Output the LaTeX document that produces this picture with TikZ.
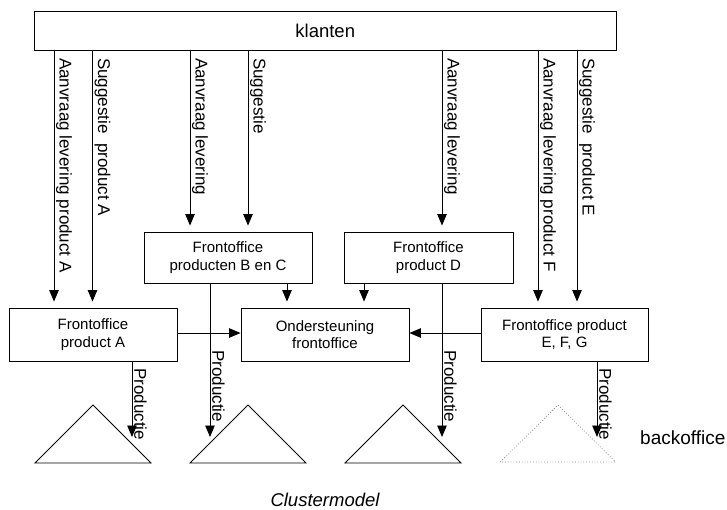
\documentclass[tikz,border=0pt]{standalone}
\usepackage{fontspec}
\setmainfont{Liberation Sans}
\usetikzlibrary{arrows.meta}
\begin{document}
\begin{tikzpicture}[x=1pt,y=-1pt,
  box/.style={draw, line width=0.9pt, inner sep=0pt, align=center,
    font=\fontsize{15}{17.5}\selectfont},
  arr/.style={line width=0.9pt, -{Triangle[length=11.5pt,width=9.5pt]}},
  gap/.style={shorten >=6pt},
  lbl/.style={rotate=-90, anchor=south west, inner sep=0pt,
    font=\fontsize{17}{20}\selectfont},
  hill/.style={line width=0.9pt, line join=miter},
  ghost/.style={line width=0.8pt, dotted, draw=black!45},
]
\useasboundingbox (0,0) rectangle (727,509);

% customer layer
\node[box, minimum width=581.5pt, minimum height=39.5pt,
  font=\fontsize{18.5}{21}\selectfont] (klanten) at (325.25,30.75) {klanten};

% front offices
\node[box, minimum width=168pt, minimum height=51pt] (bc) at (228,257.5)
  {Frontoffice\\producten B en C};
\node[box, minimum width=169pt, minimum height=51pt] (d) at (428.5,257.5)
  {Frontoffice\\product D};
\node[box, minimum width=168pt, minimum height=53pt] (a) at (93,334.5)
  {Frontoffice\\product A};
\node[box, minimum width=168pt, minimum height=53pt] (ond) at (325,334.5)
  {Ondersteuning\\frontoffice};
\node[box, minimum width=167pt, minimum height=53pt] (efg) at (564.5,334.5)
  {Frontoffice product\\E, F, G};

% requests and suggestions from the customers
\draw[arr, gap] (54,0 |- klanten.south) -- (54,0 |- a.north);
\draw[arr, gap] (92.5,0 |- klanten.south) -- (92.5,0 |- a.north);
\draw[arr, gap] (190,0 |- klanten.south) -- (190,0 |- bc.north);
\draw[arr, gap] (248,0 |- klanten.south) -- (248,0 |- bc.north);
\draw[arr, gap] (442,0 |- klanten.south) -- (442,0 |- d.north);
\draw[arr, gap] (538,0 |- klanten.south) -- (538,0 |- efg.north);
\draw[arr, gap] (577,0 |- klanten.south) -- (577,0 |- efg.north);

\node[lbl] (l1) at (56,58) {Aanvraag levering product A};
\node[lbl] (l2) at (94.5,58) {Suggestie\ \ product A};
\node[lbl] (l3) at (192,58) {Aanvraag levering};
\node[lbl] (l4) at (250,58) {Suggestie};
\node[lbl] (l5) at (444,58) {Aanvraag levering};
\node[lbl] (l6) at (540,58) {Aanvraag levering product F};
\node[lbl] (l7) at (579,58) {Suggestie\ \ product E};

% links to the support office
\draw[arr, gap] (287,0 |- bc.south) -- (287,0 |- ond.north);
\draw[arr, gap] (364,0 |- d.south) -- (364,0 |- ond.north);
\draw[arr] (a.east |- 0,333) -- (ond.west |- 0,333);
\draw[arr] (efg.west |- 0,333) -- (ond.east |- 0,333);

% production flows to the back offices
\coordinate (p1) at (132,437);
\coordinate (p2) at (210,437);
\coordinate (p3) at (442,437);
\coordinate (p4) at (597,437);
\draw[arr] (p1 |- a.south) -- (p1);
\draw[arr] (p2 |- bc.south) -- (p2);
\draw[arr] (p3 |- d.south) -- (p3);
\draw[arr] (p4 |- efg.south) -- (p4);

\node[lbl] (pl1) at (134,368) {Productie};
\node[lbl] (pl2) at (212,350) {Productie};
\node[lbl] (pl3) at (444,350) {Productie};
\node[lbl] (pl4) at (599,368) {Productie};

% back offices
\draw[hill] (35,463) -- (93,405) -- (151,463) -- cycle;
\draw[hill] (190,463) -- (248,405) -- (306,463) -- cycle;
\draw[hill] (345,463) -- (403,405) -- (461,463) -- cycle;
\draw[ghost] (500.5,462) -- (558,405) -- (615.5,462) -- cycle;

\node[anchor=base west, inner sep=0pt, font=\fontsize{19}{22}\selectfont]
  (bo) at (640,444) {backoffice};
\node[anchor=base, inner sep=0pt, font=\fontsize{18.5}{22}\selectfont\itshape]
  (cap) at (325,506) {Clustermodel};
\end{tikzpicture}
\end{document}
